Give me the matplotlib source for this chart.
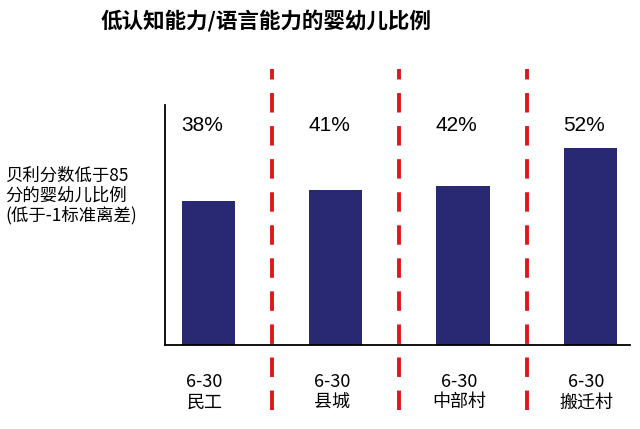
import matplotlib
matplotlib.use('Agg')
import matplotlib.pyplot as plt

plt.rcParams['font.family'] = ['Noto Sans CJK SC', 'DejaVu Sans']

groups = ['民工', '县城', '中部村', '搬迁村']
ages = ['6-30', '6-30', '6-30', '6-30']
values = [38, 41, 42, 52]
labels = ['38%', '41%', '42%', '52%']

fig = plt.figure(figsize=(6.4, 4.29), dpi=100)
ax = fig.add_axes([165/640, 84/429, 465/640, 240/429])

x = range(len(values))
ax.bar(x, values, width=0.42, color='#282873', zorder=2)

for i, lab in enumerate(labels):
    ax.text(i - 0.05, 58, lab, ha='center', va='center', fontsize=15,
            family=['Liberation Sans', 'DejaVu Sans'])

# red separators between groups, running past the axes
for sep in [0.5, 1.5, 2.5]:
    ax.axvline(sep, ymin=-0.27, ymax=1.15, color='#e0161b', lw=2.8,
               dashes=(5, 3.5), clip_on=False, zorder=3)

for i in x:
    ax.text(i - 0.03, -7.5, ages[i] + '\n' + groups[i], ha='center', va='top',
            fontsize=13, linespacing=1.15)

ax.set_xlim(-0.34, 3.31)
ax.set_ylim(0, 63.5)
ax.set_xticks([])
ax.set_yticks([])
ax.spines['top'].set_visible(False)
ax.spines['right'].set_visible(False)
ax.spines['left'].set_linewidth(1.3)
ax.spines['bottom'].set_linewidth(1.3)

fig.text(5/640, 1 - 167/429, '贝利分数低于85\n分的婴幼儿比例\n(低于-1标准离差)',
         ha='left', va='top', fontsize=12.5, linespacing=1.1)

fig.text(0.415, 1 - 22/429, '低认知能力/语言能力的婴幼儿比例', ha='center', va='center',
         fontsize=15.5, fontweight='heavy')

plt.savefig('out.png', dpi=100)
